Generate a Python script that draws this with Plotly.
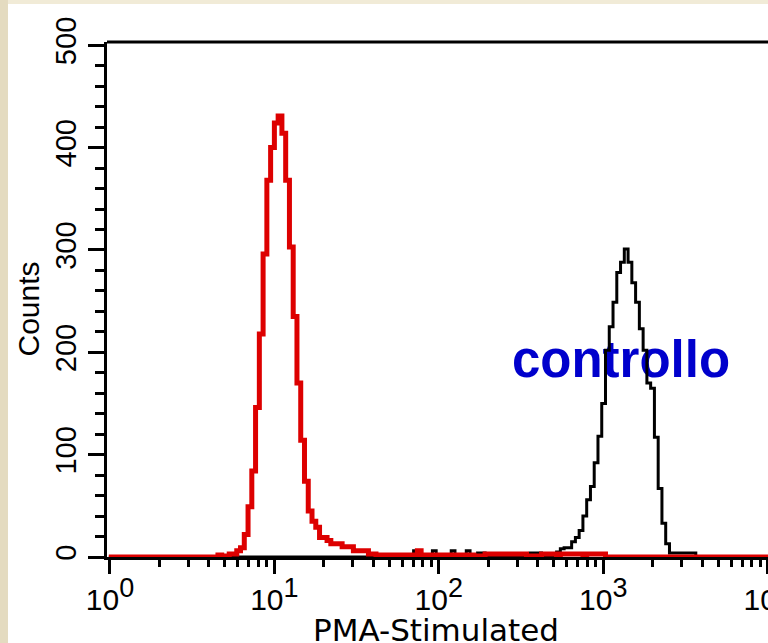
import plotly.graph_objects as go

# ---------------- data (histogram counts per channel) ----------------
CH_PER_DECADE = 43.7      # channels per decade of fluorescence
CH_OFFSET = -0.3          # channel offset of first bin edge

# PMA-stimulated sample (red)
red_counts = [
    0, 0, 0, 0, 0, 0, 0, 0, 0, 0,
    0, 0, 0, 0, 0, 0, 0, 0, 0, 0,
    0, 0, 0, 0, 0, 0, 0, 0, 0, 2,
    0, 1, 3, 3, 6, 9, 22, 49, 84, 146,
    218, 296, 368, 400, 424, 431, 414, 368, 303, 235,
    170, 114, 74, 45, 35, 29, 19, 19, 16, 13,
    13, 13, 10, 10, 10, 6, 6, 6, 6, 3,
    3, 2, 2, 2, 2, 2, 2, 2, 2, 2,
    2, 2, 6, 2, 2, 2, 2, 2, 2, 2,
    2, 2, 2, 2, 2, 2, 2, 1, 1, 1,
    3, 3, 3, 3, 3, 3, 3, 3, 3, 3,
    3, 1, 1, 1, 1, 3, 3, 3, 3, 0,
    3, 3, 3, 3, 3, 3, 1, 3, 3, 3,
    3, 3, 0, 0, 0, 0, 0, 0, 0, 0,
    0, 0, 0, 0, 0, 0, 0, 0, 0, 0,
    0, 0, 0, 0, 0, 0, 0, 0, 0, 0,
    0, 0, 0, 0, 0, 0, 0, 0, 0, 0,
    0, 0, 0, 0, 0, 0,
]

# control sample (black)
black_counts = [
    0, 0, 0, 0, 0, 0, 0, 0, 0, 0,
    0, 0, 0, 0, 0, 0, 0, 0, 0, 0,
    0, 0, 0, 0, 0, 0, 0, 0, 0, 0,
    0, 0, 0, 0, 0, 0, 0, 0, 0, 0,
    0, 0, 0, 0, 0, 0, 0, 0, 0, 0,
    0, 0, 0, 0, 0, 0, 0, 0, 0, 0,
    0, 0, 0, 0, 0, 0, 0, 0, 0, 0,
    0, 0, 0, 0, 0, 0, 0, 0, 0, 0,
    0, 6, 0, 0, 0, 0, 6, 0, 0, 0,
    0, 6, 0, 0, 0, 6, 0, 0, 4, 4,
    0, 0, 0, 0, 0, 0, 0, 0, 0, 0,
    0, 0, 4, 4, 4, 0, 0, 0, 2, 5,
    8, 9, 9, 15, 19, 26, 40, 56, 69, 92,
    118, 150, 202, 225, 249, 278, 288, 301, 288, 268,
    249, 223, 202, 170, 165, 117, 67, 33, 13, 4,
    4, 4, 4, 4, 4, 4, 0, 0, 0, 0,
    0, 0, 0, 0, 0, 0, 0, 0, 0, 0,
    0, 0, 0, 0, 0, 0,
]

x_tick_vals = [1, 10, 100, 1000, 10000]
x_tick_exps = ["0", "1", "2", "3", "4"]
y_tick_vals = [0, 100, 200, 300, 400, 500]
y_tick_text = ["0", "100", "200", "300", "400", "500"]

x_title = "PMA-Stimulated"
y_title = "Counts"
label_text = "controllo"
label_x = 1283
label_y = 188

# ---------------- figure ----------------
edges = [10 ** ((k + CH_OFFSET) / CH_PER_DECADE) for k in range(len(red_counts) + 1)]


def steps(c):
    return list(c) + [c[-1]]


SANS = "Liberation Sans, Arial, sans-serif"
x_tick_text = ['10<sup><span style="font-size:27px">%s</span></sup>' % e
               for e in x_tick_exps]

fig = go.Figure()
fig.add_trace(go.Scatter(
    x=[label_x], y=[label_y], mode="text", text=[label_text],
    textposition="middle center",
    textfont=dict(family=SANS, size=51, color="#0000CC", weight="bold"),
    hoverinfo="skip", showlegend=False, cliponaxis=False))
fig.add_trace(go.Scatter(
    x=edges, y=steps(black_counts), mode="lines",
    line=dict(color="black", width=3, shape="hv"),
    hoverinfo="skip", showlegend=False))
fig.add_trace(go.Scatter(
    x=edges, y=steps(red_counts), mode="lines",
    line=dict(color="#DD0000", width=5, shape="hv"),
    hoverinfo="skip", showlegend=False))

minor_x = [m * 10 ** d for d in range(4) for m in range(2, 10)]

fig.update_layout(
    width=768, height=643,
    margin=dict(l=107, r=0, t=42, b=86),
    paper_bgcolor="white", plot_bgcolor="white",
    showlegend=False, hovermode=False,
    xaxis=dict(
        type="log", range=[-0.018, 4.002], automargin=False,
        showline=True, linewidth=3, linecolor="black",
        ticks="outside", ticklen=14, tickwidth=3, tickcolor="black",
        tickmode="array", tickvals=x_tick_vals, ticktext=x_tick_text,
        ticklabeloverflow="allow",
        tickfont=dict(family=SANS, size=30, color="black"),
        minor=dict(ticks="outside", ticklen=7, tickwidth=3, tickcolor="black",
                   tickvals=minor_x),
        showgrid=False, zeroline=False, layer="below traces",
    ),
    yaxis=dict(
        range=[0, 503.2], automargin=False,
        showline=True, linewidth=3, linecolor="black",
        ticks="outside", ticklen=16, tickwidth=3, tickcolor="black",
        tickmode="array", tickvals=y_tick_vals, ticktext=y_tick_text,
        tickangle=-90, ticklabelstandoff=0,
        tickfont=dict(family=SANS, size=29, color="black"),
        minor=dict(ticks="outside", ticklen=9, tickwidth=3, tickcolor="black",
                   tickmode="linear", tick0=0, dtick=20),
        showgrid=False, zeroline=False, layer="below traces",
    ),
    annotations=[
        dict(text=y_title, xref="paper", yref="paper", x=-0.1195, y=0.4806,
             xanchor="center", yanchor="middle", textangle=-90, showarrow=False,
             font=dict(family=SANS, size=30, color="black")),
        dict(text=x_title, xref="paper", yref="paper", x=0.497, y=-0.142,
             xanchor="center", yanchor="middle", showarrow=False,
             font=dict(family="DejaVu Sans", size=31, color="black")),
    ],
    shapes=[
        dict(type="line", xref="paper", yref="paper", x0=0, x1=1.01, y0=1, y1=1,
             line=dict(color="black", width=3), layer="above"),
        dict(type="rect", xref="paper", yref="paper", x0=-0.17, x1=-0.1498,
             y0=-0.2, y1=1.1, fillcolor="#E4DBC0", line=dict(width=0), layer="below"),
        dict(type="rect", xref="paper", yref="paper", x0=-0.1498, x1=1.05,
             y0=1.0738, y1=1.1, fillcolor="#F1EBD7", line=dict(width=0), layer="below"),
    ],
)

fig.write_html("out.html",
               config={"displayModeBar": False, "staticPlot": True},
               post_script="document.body.style.margin='0px';"
                           "document.body.style.padding='0px';")
